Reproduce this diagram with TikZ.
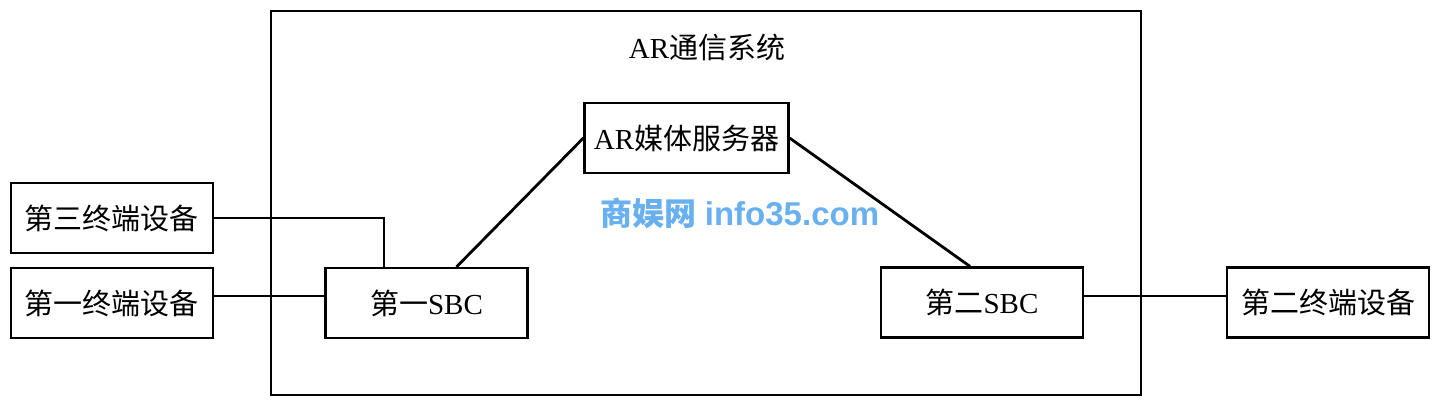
\documentclass[tikz,border=0pt]{standalone}
\usepackage{fontspec}
\setmainfont{Liberation Serif}
\newfontfamily\cjk{Noto Sans CJK SC}
\newfontfamily\wmlatin{Liberation Sans}
\usetikzlibrary{arrows,shapes}
\definecolor{wmblue}{RGB}{104,176,240}

\begin{document}
\begin{tikzpicture}[x=0.5pt,y=-0.5pt,semithick,
    box/.style={shape=rectangle,draw=black,line width=1.1pt,minimum width=101pt,minimum height=35pt,inner sep=0pt,font=\fontsize{14.5}{16}\selectfont},
    link/.style={draw=black,line width=1pt},
    slant/.style={draw=black,line width=1.4pt}]
                \useasboundingbox (0,0) rectangle (1440,407);
                \node[draw=black,line width=1pt,minimum width=435pt,minimum height=192pt,inner sep=0pt](sys)at(706, 203){};
                \node[font=\fontsize{14.5}{16}\selectfont](title)at(707, 47){AR{\cjk 通信系统}};

                \node[box,minimum width=102pt](ar)at(686.5, 138){AR{\cjk 媒体服务器}};
                \node[box](t3)at(112, 218){\cjk 第三终端设备};
                \node[box](t1)at(112, 303){\cjk 第一终端设备};
                \node[box](s1)at(426.5, 303){{\cjk 第一}SBC};
                \node[box](s2)at(982, 302.5){{\cjk 第二}SBC};
                \node[box](t2)at(1328, 302.5){\cjk 第二终端设备};

                \node[text=wmblue,font=\fontsize{16}{17}\selectfont](wm)at(740, 213){{\cjk\bfseries 商娱网} {\wmlatin\fontsize{16.5}{17}\selectfont\bfseries info35.com}};

                \coordinate (bend) at (384, 218);
                \draw[link] (t3.east) -- (bend) -- (bend |- s1.north);
                \draw[link] ([yshift=3.5pt]t1.east) -- ([yshift=3.5pt]s1.west);
                \draw[link] ([yshift=3.5pt]s2.east) -- ([yshift=3.5pt]t2.west);
                \draw[slant] ([xshift=15pt]s1.north) -- (ar.west);
                \draw[slant] (ar.east) -- ([xshift=-6pt]s2.north);
            \end{tikzpicture}
\end{document}
